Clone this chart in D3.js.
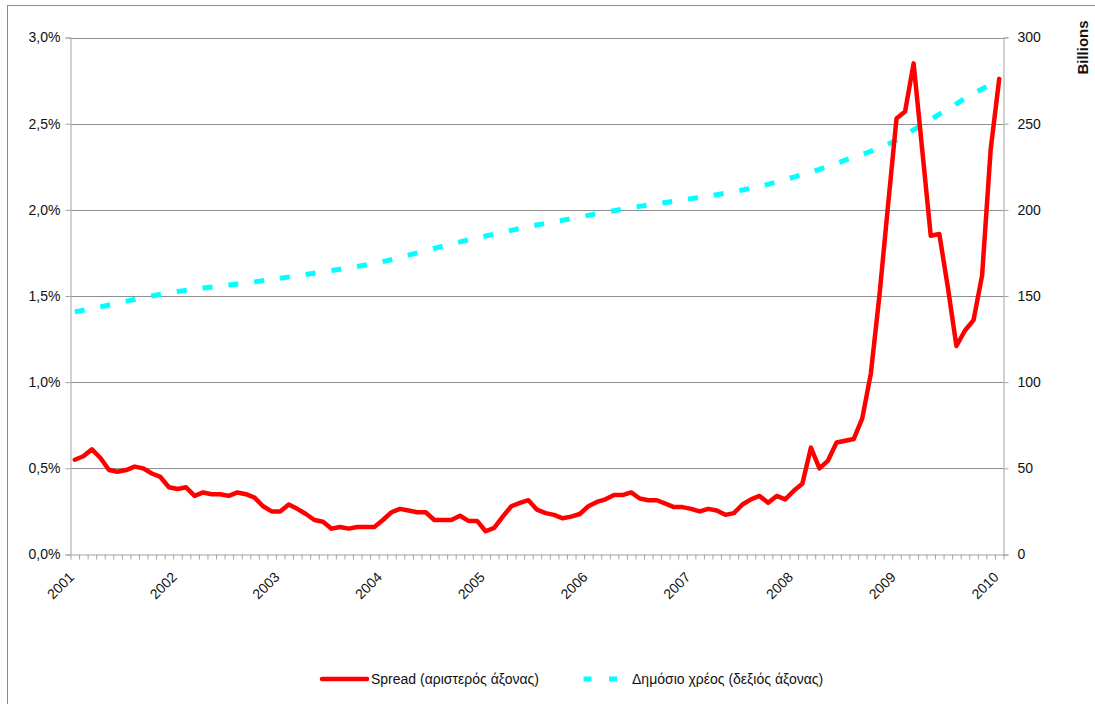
<!DOCTYPE html>
<html>
<head>
<meta charset="utf-8">
<script src="https://cdn.jsdelivr.net/npm/d3@7"></script>
<style>
  html, body { margin: 0; padding: 0; background: #ffffff; }
  svg { display: block; }
  text { font-family: "Liberation Sans", Arial, sans-serif; fill: #111; }
</style>
</head>
<body>
<svg id="chart" width="1095" height="704"></svg>
<script>
// Monthly spread (%), Jan 2001 .. Jan 2010
const spread = [
  0.55, 0.57, 0.61, 0.56, 0.49, 0.48, 0.49, 0.51, 0.50, 0.47, 0.45, 0.39,
  0.38, 0.39, 0.34, 0.36, 0.35, 0.35, 0.34, 0.36, 0.35, 0.33, 0.28, 0.25,
  0.25, 0.29, 0.265, 0.235, 0.20, 0.19, 0.15, 0.16, 0.15, 0.16, 0.16, 0.16,
  0.20, 0.245, 0.265, 0.255, 0.245, 0.245, 0.20, 0.20, 0.20, 0.225, 0.195, 0.195,
  0.135, 0.155, 0.22, 0.28, 0.30, 0.315, 0.26, 0.24, 0.23, 0.21, 0.22, 0.235,
  0.28, 0.305, 0.32, 0.345, 0.345, 0.36, 0.325, 0.315, 0.315, 0.295, 0.275, 0.275,
  0.265, 0.25, 0.265, 0.255, 0.23, 0.24, 0.29, 0.32, 0.34, 0.30, 0.34, 0.32,
  0.37, 0.41, 0.62, 0.50, 0.545, 0.65, 0.66, 0.67, 0.79, 1.05, 1.50, 2.02,
  2.53, 2.57, 2.85, 2.35, 1.85, 1.86, 1.55, 1.21, 1.30, 1.36, 1.62, 2.35,
  2.76
];

// Quarterly public debt (billions), Jan 2001 .. Jan 2010
const debtMonth = [
  0, 3, 6, 9, 12, 15, 18, 21, 24, 27, 30, 33, 36, 39, 42, 45, 48, 51, 54,
  57, 60, 63, 66, 69, 72, 75, 78, 81, 84, 87, 90, 93, 96, 99, 102, 105, 108
];
const debt = [
  140.8, 143.7, 147.0, 150.0, 152.6, 154.6, 156.4, 158.2, 160.3, 162.5,
  164.8, 167.1, 170.0, 173.7, 177.6, 181.4, 184.8, 188.1, 191.2, 194.0,
  196.8, 199.5, 202.0, 204.3, 206.5, 208.8, 211.5, 214.8, 219.0, 223.5,
  228.8, 234.0, 240.5, 249.5, 258.5, 267.5, 275.0
];

const years = ["2001", "2002", "2003", "2004", "2005", "2006", "2007", "2008", "2009", "2010"];
const leftTicks = [0, 0.5, 1.0, 1.5, 2.0, 2.5, 3.0];
const rightTicks = [0, 50, 100, 150, 200, 250, 300];
const seriesNames = ["Spread (αριστερός άξονας)", "Δημόσιο χρέος (δεξιός άξονας)"];

const svg = d3.select("#chart");
const P = { left: 70.5, right: 1003.5, top: 37.5, bottom: 554.5 };
const nMonths = spread.length;

// monthly categories, each point centred in its month slot
const x = d3.scaleLinear().domain([-0.5, nMonths - 0.5]).range([P.left, P.right]);
const yL = d3.scaleLinear().domain([0, 3]).range([P.bottom, P.top]);
const yR = d3.scaleLinear().domain([0, 300]).range([P.bottom, P.top]);

const gridColor = "#8f8f8f";
const axisColor = "#a3a3a3";
const labelFont = "'Liberation Sans', Arial, sans-serif";

// outer chart frame
svg.append("rect")
  .attr("x", 7.5).attr("y", 5.5)
  .attr("width", 1100).attr("height", 720)
  .attr("fill", "none").attr("stroke", "#8a8a8a").attr("stroke-width", 1);

// horizontal gridlines
svg.append("g").selectAll("line")
  .data(leftTicks.filter(d => d > 0))
  .join("line")
  .attr("x1", P.left).attr("x2", P.right)
  .attr("y1", d => Math.round(yL(d)) + 0.5).attr("y2", d => Math.round(yL(d)) + 0.5)
  .attr("stroke", gridColor).attr("stroke-width", 1);

// left axis
const fmtPct = d => d.toFixed(1).replace(".", ",") + "%";
const gL = svg.append("g").attr("transform", `translate(${P.left},0)`)
  .call(d3.axisLeft(yL).tickValues(leftTicks).tickFormat(fmtPct).tickSize(5).tickPadding(5));
gL.select(".domain").attr("stroke", axisColor);
gL.selectAll(".tick line").attr("stroke", axisColor);
gL.selectAll(".tick text").style("font-size", "14px").attr("fill", "#111")
  .style("font-family", labelFont);

// right axis
const gR = svg.append("g").attr("transform", `translate(${P.right},0)`)
  .call(d3.axisRight(yR).tickValues(rightTicks).tickFormat(d3.format("d")).tickSize(5).tickPadding(9));
gR.select(".domain").attr("stroke", axisColor);
gR.selectAll(".tick line").attr("stroke", axisColor);
gR.selectAll(".tick text").style("font-size", "14px").attr("fill", "#111")
  .style("font-family", labelFont);

// bottom axis: a tick at every month boundary, labels at each January
const monthEdges = d3.range(0, nMonths + 1).map(k => k - 0.5);
const gB = svg.append("g").attr("transform", `translate(0,${P.bottom})`)
  .call(d3.axisBottom(x).tickValues(monthEdges).tickFormat("").tickSize(5).tickSizeOuter(0));
gB.select(".domain").attr("stroke", axisColor);
gB.selectAll(".tick line").attr("stroke", axisColor);

svg.append("g").selectAll("text")
  .data(years)
  .join("text")
  .attr("transform", (d, i) => `translate(${x(i * 12 - 0.5) + 1},${P.bottom + 20}) rotate(-45)`)
  .attr("text-anchor", "end")
  .attr("dy", "0.35em")
  .style("font-size", "14px")
  .text(d => d);

// display-unit label for the right axis
svg.append("text")
  .attr("transform", "translate(1088,47.5) rotate(-90)")
  .attr("text-anchor", "middle")
  .style("font-size", "15px").style("font-weight", "bold")
  .text("Billions");

// public debt line (right axis)
const debtLine = d3.line()
  .x((d, i) => x(debtMonth[i]))
  .y(d => yR(d))
  .curve(d3.curveMonotoneX);
svg.append("path")
  .datum(debt)
  .attr("d", debtLine)
  .attr("fill", "none")
  .attr("stroke", "#00ffff")
  .attr("stroke-width", 5)
  .attr("stroke-dasharray", "10,16");

// spread line (left axis)
const spreadLine = d3.line()
  .x((d, i) => x(i))
  .y(d => yL(d));
svg.append("path")
  .datum(spread)
  .attr("d", spreadLine)
  .attr("fill", "none")
  .attr("stroke", "#ff0000")
  .attr("stroke-width", 4.5)
  .attr("stroke-linejoin", "round")
  .attr("stroke-linecap", "round");

// legend
const lg = svg.append("g");
lg.append("line")
  .attr("x1", 322).attr("x2", 367).attr("y1", 679).attr("y2", 679)
  .attr("stroke", "#ff0000").attr("stroke-width", 4.5).attr("stroke-linecap", "round");
lg.append("text").attr("x", 371).attr("y", 684).style("font-size", "14px").text(seriesNames[0]);
lg.append("line")
  .attr("x1", 583.5).attr("x2", 618).attr("y1", 679).attr("y2", 679)
  .attr("stroke", "#00ffff").attr("stroke-width", 5).attr("stroke-dasharray", "8,17.5");
lg.append("text").attr("x", 632).attr("y", 684).style("font-size", "14px").text(seriesNames[1]);
</script>
</body>
</html>
